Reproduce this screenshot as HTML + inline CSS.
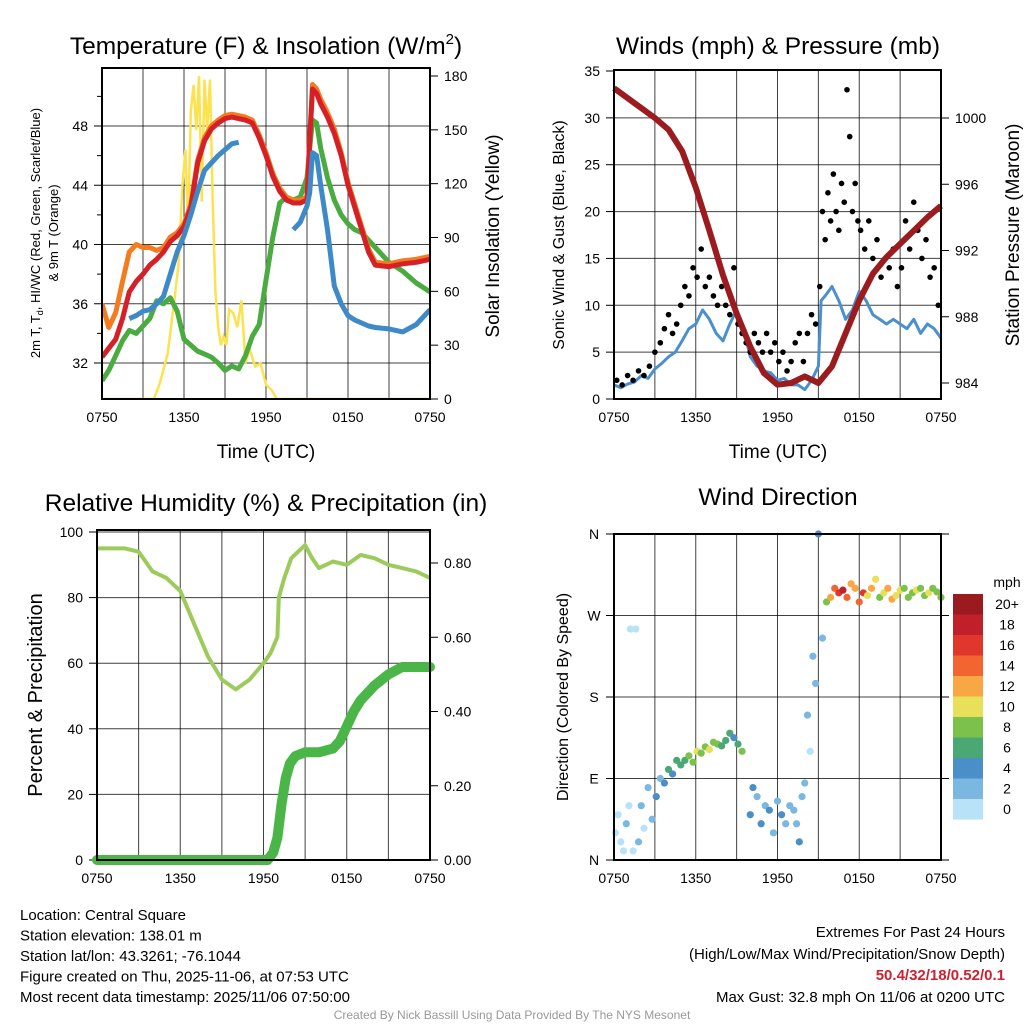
<!DOCTYPE html>
<html><head><meta charset="utf-8"><style>
body{margin:0;background:#fff;}
svg{display:block;font-family:"Liberation Sans",sans-serif;}
</style></head><body>
<svg id="s" width="1024" height="1024" viewBox="0 0 1024 1024"></svg>
<script>
// ---------- DATA ----------
const tempHours=[0,0.5,1,1.5,2,2.5,3,3.5,4,4.5,5,5.5,6,6.5,7,7.5,8,8.5,9,9.5,10,10.5,11,11.5,12,12.5,13,13.5,14,14.5,15,15.2,15.4,15.7,16,16.5,17,17.5,18,18.5,19,19.5,20,21,22,23,24];
const tempRed=[32.4,33.0,33.6,35.0,36.8,37.5,38.0,38.6,39.0,39.5,40.2,40.6,41.2,42.5,45.5,47.0,47.8,48.2,48.5,48.6,48.5,48.4,48.2,47.2,46.0,44.6,43.6,43.0,42.8,42.8,43.0,47.0,50.5,50.2,49.5,48.6,47.5,46.0,44.0,42.5,41.0,39.5,38.6,38.5,38.7,38.8,39.0];
const tempOrange=[36.0,34.4,35.4,37.5,39.5,40.0,39.8,39.8,39.6,39.8,40.5,40.8,41.4,42.7,45.7,47.2,48.0,48.4,48.7,48.8,48.7,48.6,48.4,47.4,46.2,44.8,43.8,43.2,43.0,43.0,43.2,47.2,50.8,50.5,49.8,48.9,47.8,46.2,44.2,42.7,41.2,39.7,38.8,38.7,38.9,39.0,39.2];
const tempGreen=[30.8,31.5,32.5,33.5,34.2,34.0,34.5,35.0,36.2,36.0,36.4,35.5,33.6,33.2,32.8,32.6,32.4,32.0,31.5,31.8,31.6,32.5,33.8,34.6,37.6,40.5,42.8,43.2,43.0,43.2,44.5,46.5,48.4,48.2,46.5,44.5,43.0,42.0,41.4,41.0,40.8,40.3,39.8,38.8,38.2,37.4,36.8];
const tempBlue=[null,null,null,null,35.0,35.2,35.5,35.6,36.0,36.5,38.0,39.5,40.6,42.0,43.6,45.0,45.5,46.0,46.4,46.8,46.9,null,46.4,null,45.6,null,null,null,41.0,41.5,42.6,43.5,46.2,46.0,44.0,41.0,37.2,36.0,35.2,34.9,34.7,34.5,34.4,34.3,34.1,34.6,35.6];
const solarHours=[0,3.8,4.2,4.8,5.3,5.6,5.9,6.1,6.3,6.5,6.7,6.9,7.1,7.3,7.5,7.7,7.9,8.1,8.3,8.5,8.7,8.9,9.1,9.3,9.6,9.9,10.2,10.5,10.8,11.2,11.6,12.0,12.4,12.8,24];
const solarVals=[0,0,8,25,55,75,120,139,95,160,175,150,180,110,178,150,178,110,60,40,30,35,30,50,48,40,55,20,28,18,20,8,5,0,0];
const windHours=[0,0.5,1,1.5,2,2.5,3,3.5,4,4.5,5,5.5,6,6.5,7,7.5,8,8.5,9,9.5,10,10.5,11,11.5,12,12.5,13,13.5,14,14.5,15,15.2,15.5,16,16.5,17,17.5,18,18.5,19,19.5,20,20.5,21,21.5,22,22.5,23,23.5,24];
const windSpeed=[1.5,1.2,1.6,1.8,2.5,2.2,3.2,3.8,4.5,5.0,6.2,7.5,8.0,9.5,8.5,7.0,6.2,8.0,9.5,7.5,4.5,3.5,3.0,2.8,2.0,2.2,1.5,1.5,1.0,2.0,3.5,10.5,11.0,12.0,10.5,8.5,9.5,11.5,10.5,9.0,8.5,8.0,8.5,8.0,7.5,8.5,7.0,8.0,7.5,6.5];
const gustHours=[0.2,0.6,1,1.4,1.8,2.2,2.6,3,3.4,3.7,4,4.3,4.6,4.9,5.2,5.5,5.8,6.1,6.4,6.7,7,7.3,7.6,7.9,8.2,8.5,8.8,9.1,9.4,9.7,10,10.3,10.6,10.9,11.2,11.5,11.8,12.1,12.4,12.7,13,13.3,13.6,13.9,14.2,14.5,14.8,15.1,15.3,15.5,15.7,15.9,16.1,16.3,16.5,16.7,16.9,17.1,17.3,17.5,17.7,17.9,18.1,18.4,18.7,19,19.3,19.6,19.9,20.2,20.5,20.8,21.1,21.4,21.7,22,22.3,22.6,22.9,23.2,23.5,23.8];
const gustVals=[2,1.5,2.5,2,3,2.5,3.5,5,6,7.5,9,7,8,10,12,11,14,13,16,12,13,11,10,12,10,9,14,8,7,6,5,7,6,5,7,5,6,4,5,3,4,6,7,4,7,9,8,12,20,17,22,19,24,20,18,23,21,33,28,20,23,19,18,16,19,15,17,13,15,14,16,12,14,19,16,21,18,15,17,13,14,10];
const rhHours=[0,1,2,3,4,5,6,7,8,9,10,11,12,12.5,13,13.1,13.5,14,15,15.5,16,17,18,19,20,21,22,23,24];
const rhVals=[95,95,95,94,88,86,82,72,62,55,52,55,60,63,68,80,86,92,96,92,89,91,90,93,92,90,89,88,86];
const precipHours=[0,12.3,12.7,13,13.3,13.6,13.9,14.3,15,16,17,17.5,18,18.5,19,20,21,21.5,22,23,24];
const precipVals=[0,0,0.02,0.06,0.15,0.22,0.26,0.28,0.29,0.29,0.30,0.32,0.36,0.40,0.43,0.47,0.50,0.51,0.52,0.52,0.52];
const dirHours=[0.1,0.3,0.5,0.7,0.9,1.1,1.2,1.4,1.6,1.8,2.0,2.2,2.5,2.8,3.1,3.4,3.7,4.0,4.3,4.6,4.9,5.2,5.5,5.8,6.1,6.4,6.7,7.0,7.3,7.6,7.9,8.2,8.5,8.8,9.1,9.4,10.0,10.2,10.5,10.8,11.1,11.4,11.7,12.0,12.3,12.6,12.9,13.2,13.4,13.6,13.8,14.0,14.2,14.4,14.6,14.8,15.0,15.3,15.6,15.9,16.2,16.5,16.8,17.1,17.4,17.7,18.0,18.3,18.6,18.9,19.2,19.5,19.8,20.1,20.4,20.7,21.0,21.3,21.6,21.9,22.2,22.5,22.8,23.1,23.4,23.7,24.0];
const dirVals=[30,50,20,10,40,60,255,10,255,20,60,35,80,45,70,90,85,100,95,110,105,110,115,108,120,118,125,122,130,128,126,132,140,135,128,120,50,80,70,40,60,55,30,65,50,40,60,55,40,20,70,85,160,120,225,195,360,245,285,290,300,295,298,290,305,300,285,295,292,300,310,290,295,300,288,292,298,300,290,295,298,300,292,295,300,296,290];
const dirSpeeds=[1,1,0,1,2,1,1,0,1,2,2,1,3,2,4,3,4,6,5,6,7,6,8,9,10,9,8,10,9,8,7,6,6,5,7,8,4,4,3,5,3,4,2,3,4,3,2,2,3,4,3,2,3,1,2,3,4,2,8,12,14,16,18,14,12,13,15,17,10,12,11,9,10,13,12,10,11,9,8,9,10,8,9,10,8,9,8];
const presHours=[0,1,2,3,4,5,6,7,8,9,10,11,12,13,14,15,16,17,18,19,20,21,22,23,24];
const presVals=[1001.8,1001.2,1000.6,1000.0,999.3,998.0,995.8,993.2,990.5,988.2,986.2,984.6,983.9,984.0,984.4,984.0,985.0,987.0,989.0,990.6,991.6,992.4,993.2,994.0,994.7];
const tempTicks=[32,36,40,44,48];
const solarTicks=[0,30,60,90,120,150,180];
const windTicks=[0,5,10,15,20,25,30,35];
const presTicks=[984,988,992,996,1000];
const rhTicks=[0,20,40,60,80,100];
const precipTicks=[0,0.2,0.4,0.6,0.8];
const timeLabels=["0750","1350","1950","0150","0750"];
const dirLabels=["N","E","S","W","N"];
const legendLabels=["20+","18","16","14","12","10","8","6","4","2","0"];
const legendColors=["#9a1a1f","#c11f2a","#e0362b","#f26430","#f9a644","#e8e05a","#7cc14c","#4aa874","#4a8fc7","#7ab8e2","#b8e2f7"];

// ---------- HELPERS ----------
const S=document.getElementById('s');const NS='http://www.w3.org/2000/svg';
function mk(tag,attrs,name,parent){const e=document.createElementNS(NS,tag);for(const k in attrs)e.setAttribute(k,attrs[k]);


(parent||S).appendChild(e);return e;}
function txt(x,y,t,size,name,opts){opts=opts||{};const e=mk('text',Object.assign({x:x,y:y,'font-size':size,'text-anchor':opts.anchor||'middle',fill:opts.fill||'#000'},opts.extra||{}),name);e.textContent=t;return e;}
function lin(d0,d1,r0,r1){return v=>r0+(v-d0)*(r1-r0)/(d1-d0);}
function path(xs,ys,fx,fy){let d='',pen=false;for(let i=0;i<xs.length;i++){if(ys[i]==null){pen=false;continue;}d+=(pen?'L':'M')+fx(xs[i]).toFixed(1)+' '+fy(ys[i]).toFixed(1);pen=true;}return d;}
function frame(x0,y0,x1,y1,name){mk('rect',{x:x0,y:y0,width:x1-x0,height:y1-y0,fill:'none',stroke:'#000','stroke-width':2},name);}
function vgrid(x0,x1,y0,y1,name){const fx=lin(0,24,x0,x1);for(let h=3;h<24;h+=3)mk('line',{x1:fx(h),x2:fx(h),y1:y0,y2:y1,stroke:'#000','stroke-width':1,'stroke-opacity':0.75},name);
timeLabels.forEach((t,i)=>txt(fx(i*6),y1+23,t,14,'x-tick-label'));}
function colorFor(s){let i=Math.min(10,Math.floor(s/2));return legendColors[10-i];}

// ---------- PANEL 1 ----------
(function(){const X0=102,X1=430,Y0=68,Y1=399;const fx=lin(0,24,X0,X1);const fy=lin(32,48,363,126);const fs=lin(0,180,399,76);
const t=txt(266,54,'Temperature (F) & Insolation (W/m',24.5,'temp-title');const sup=document.createElementNS(NS,'tspan');sup.setAttribute('font-size',15);sup.setAttribute('dy',-10);sup.textContent='2';t.appendChild(sup);const cl=document.createElementNS(NS,'tspan');cl.setAttribute('dy',10);cl.textContent=')';t.appendChild(cl);
vgrid(X0,X1,Y0,Y1,'temp-vgrid');
tempTicks.forEach(v=>{mk('line',{x1:X0,x2:X1,y1:fy(v),y2:fy(v),stroke:'#000','stroke-width':1,'stroke-opacity':0.75},'temp-hgrid');mk('line',{x1:X0-8,x2:X0,y1:fy(v),y2:fy(v),stroke:'#000'},'temp-tick');txt(X0-14,fy(v)+5,String(v),14,'temp-tick-label',{anchor:'end'});});
[34,38,42,46,50].forEach(v=>mk('line',{x1:X0-5,x2:X0,y1:fy(v),y2:fy(v),stroke:'#000'},'temp-minor-tick'));
solarTicks.forEach(v=>{mk('line',{x1:X1,x2:X1+8,y1:fs(v),y2:fs(v),stroke:'#000'},'solar-tick');txt(X1+14,fs(v)+5,String(v),14,'solar-tick-label',{anchor:'start'});});
const cp=mk('clipPath',{id:'c1'},'clip');mk('rect',{x:X0,y:Y0,width:X1-X0,height:Y1-Y0},'clip-rect',cp);
const g=mk('g',{'clip-path':'url(#c1)'},'temp-series');
mk('path',{d:path(solarHours,solarVals,fx,fs),fill:'none',stroke:'#fde24f','stroke-width':2.5},'solar-line',g);
mk('path',{d:path(tempHours,tempGreen,fx,fy),fill:'none',stroke:'#4aac40','stroke-width':5,'stroke-linejoin':'round'},'dewpoint-line',g);
mk('path',{d:path(tempHours,tempOrange,fx,fy),fill:'none',stroke:'#f47b20','stroke-width':5,'stroke-linejoin':'round'},'temp-9m-line',g);
mk('path',{d:path(tempHours,tempRed,fx,fy),fill:'none',stroke:'#d62027','stroke-width':5,'stroke-linejoin':'round'},'temp-2m-line',g);
mk('path',{d:path(tempHours,tempBlue,fx,fy),fill:'none',stroke:'#3e8ac8','stroke-width':5,'stroke-linejoin':'round'},'windchill-line',g);
frame(X0,Y0,X1,Y1,'temp-plot-frame');
txt(266,458,'Time (UTC)',19,'temp-x-title');
txt(40,233,'2m T, T',13,'temp-y-title',{extra:{transform:'rotate(-90 40 233)'}}).innerHTML='2m T, T<tspan font-size="9" dy="3">d</tspan><tspan dy="-3">, HI/WC (Red, Green, Scarlet/Blue)</tspan>';
txt(58,233,'& 9m T (Orange)',13,'temp-y-title-2',{extra:{transform:'rotate(-90 58 233)'}});
txt(499,236,'Solar Insolation (Yellow)',19,'solar-y-title',{extra:{transform:'rotate(-90 499 236)'}});
})();

// ---------- PANEL 2 ----------
(function(){const X0=614,X1=941,Y0=70,Y1=399;const fx=lin(0,24,X0,X1);const fy=lin(0,35,399,71);const fp=lin(984,1000,383,118);
txt(778,54,'Winds (mph) & Pressure (mb)',24.5,'wind-title');
vgrid(X0,X1,Y0,Y1,'wind-vgrid');
windTicks.forEach(v=>{if(v>0&&v<35)mk('line',{x1:X0,x2:X1,y1:fy(v),y2:fy(v),stroke:'#000','stroke-width':1,'stroke-opacity':0.75},'wind-hgrid');mk('line',{x1:X0-8,x2:X0,y1:fy(v),y2:fy(v),stroke:'#000'},'wind-tick');txt(X0-14,fy(v)+5,String(v),14,'wind-tick-label',{anchor:'end'});});
presTicks.forEach(v=>{mk('line',{x1:X1,x2:X1+8,y1:fp(v),y2:fp(v),stroke:'#000'},'pressure-tick');txt(X1+14,fp(v)+5,String(v),14,'pressure-tick-label',{anchor:'start'});});
mk('path',{d:path(windHours,windSpeed,fx,fy),fill:'none',stroke:'#4a90cf','stroke-width':3,'stroke-linejoin':'round'},'wind-line');
gustHours.forEach((h,i)=>mk('circle',{cx:fx(h),cy:fy(gustVals[i]),r:2.8,fill:'#000'},'gust-point'));
mk('path',{d:path(presHours,presVals,fx,fp),fill:'none',stroke:'#9b1b1e','stroke-width':6,'stroke-linejoin':'round'},'pressure-line');
frame(X0,Y0,X1,Y1,'wind-plot-frame');
txt(778,458,'Time (UTC)',19,'wind-x-title');
txt(564,235,'Sonic Wind & Gust (Blue, Black)',16,'wind-y-title',{extra:{transform:'rotate(-90 564 235)'}});
txt(1019,235,'Station Pressure (Maroon)',19,'pressure-y-title',{extra:{transform:'rotate(-90 1019 235)'}});
})();

// ---------- PANEL 3 ----------
(function(){const X0=97,X1=430,Y0=530,Y1=860;const fx=lin(0,24,X0,X1);const fy=lin(0,100,860,532);const fp=lin(0,0.8,860,563);
txt(266,511,'Relative Humidity (%) & Precipitation (in)',24.5,'rh-title');
vgrid(X0,X1,Y0,Y1,'rh-vgrid');
rhTicks.forEach(v=>{if(v>0)mk('line',{x1:X0,x2:X1,y1:fy(v),y2:fy(v),stroke:'#000','stroke-width':1,'stroke-opacity':0.75},'rh-hgrid');mk('line',{x1:X0-8,x2:X0,y1:fy(v),y2:fy(v),stroke:'#000'},'rh-tick');txt(X0-14,fy(v)+5,String(v),14,'rh-tick-label',{anchor:'end'});});
precipTicks.forEach(v=>{mk('line',{x1:X1,x2:X1+8,y1:fp(v),y2:fp(v),stroke:'#000'},'precip-tick');txt(X1+14,fp(v)+5,v.toFixed(2),14,'precip-tick-label',{anchor:'start'});});
mk('path',{d:path(rhHours,rhVals,fx,fy),fill:'none',stroke:'#9ccb5c','stroke-width':4,'stroke-linejoin':'round'},'rh-line');
mk('path',{d:path(precipHours,precipVals,fx,fp),fill:'none',stroke:'#4bb648','stroke-width':10,'stroke-linejoin':'round','stroke-linecap':'round'},'precip-line');
frame(X0,Y0,X1,Y1,'rh-plot-frame');
txt(42,695,'Percent & Precipitation',20,'rh-y-title',{extra:{transform:'rotate(-90 42 695)'}});
})();

// ---------- PANEL 4 ----------
(function(){const X0=614,X1=941,Y0=534,Y1=860;const fx=lin(0,24,X0,X1);const fd=lin(0,360,860,534);
txt(778,505,'Wind Direction',24.5,'dir-title');
vgrid(X0,X1,Y0,Y1,'dir-vgrid');
dirLabels.forEach((l,i)=>{const y=fd(i*90);if(i>0&&i<4)mk('line',{x1:X0,x2:X1,y1:y,y2:y,stroke:'#000','stroke-width':1,'stroke-opacity':0.75},'dir-hgrid');mk('line',{x1:X0-8,x2:X0,y1:y,y2:y,stroke:'#000'},'dir-tick');mk('line',{x1:X1,x2:X1+8,y1:y,y2:y,stroke:'#000'},'dir-tick-right');txt(X0-20,y+5,l,14,'dir-tick-label');});
dirHours.forEach((h,i)=>mk('circle',{cx:fx(h),cy:fd(dirVals[i]),r:3.6,fill:colorFor(dirSpeeds[i])},'dir-point'));
frame(X0,Y0,X1,Y1,'dir-plot-frame');
txt(568,697,'Direction (Colored By Speed)',16,'dir-y-title',{extra:{transform:'rotate(-90 568 697)'}});
txt(1007,587,'mph',14,'legend-title');
legendColors.forEach((c,i)=>{mk('rect',{x:953,y:594+i*20.5,width:30,height:20.6,fill:c},'legend-swatch');txt(1007,609+i*20.5,legendLabels[i],14,'legend-label');});
})();

// ---------- FOOTER ----------
["Location: Central Square","Station elevation: 138.01 m","Station lat/lon: 43.3261; -76.1044","Figure created on Thu, 2025-11-06, at 07:53 UTC","Most recent data timestamp: 2025/11/06 07:50:00"].forEach((t,i)=>txt(20,920+i*20.5,t,15,'station-info-line',{anchor:'start'}));
txt(1005,937,'Extremes For Past 24 Hours',15,'extremes-title',{anchor:'end'});
txt(1005,959,'(High/Low/Max Wind/Precipitation/Snow Depth)',15,'extremes-subtitle',{anchor:'end'});
txt(1005,980,'50.4/32/18/0.52/0.1',15,'extremes-values',{anchor:'end',fill:'#d02030',extra:{'font-weight':'bold'}});
txt(1005,1002,'Max Gust: 32.8 mph On 11/06 at 0200 UTC',15,'max-gust',{anchor:'end'});
txt(512,1019,'Created By Nick Bassill Using Data Provided By The NYS Mesonet',12,'credit',{fill:'#999'});
</script>
</body></html>
